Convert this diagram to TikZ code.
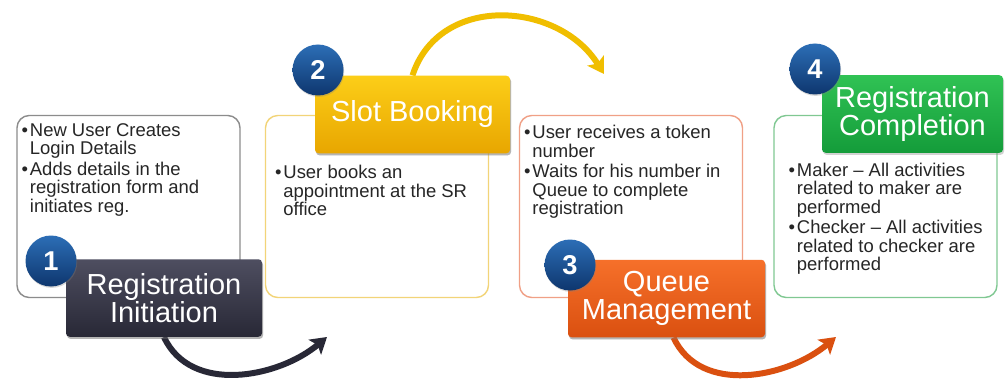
\documentclass[tikz,border=0pt]{standalone}
\usepackage{fontspec}
\setmainfont{Liberation Sans}
\usetikzlibrary{arrows.meta, positioning, shadows}

\definecolor{numtop}{RGB}{44,110,182}
\definecolor{numbot}{RGB}{14,54,110}
\definecolor{darktop}{RGB}{78,78,96}
\definecolor{darkbot}{RGB}{40,40,54}
\definecolor{yeltop}{RGB}{252,206,24}
\definecolor{yelbot}{RGB}{232,166,0}
\definecolor{yelarrow}{RGB}{240,190,0}
\definecolor{orgtop}{RGB}{246,112,42}
\definecolor{orgbot}{RGB}{218,80,16}
\definecolor{grntop}{RGB}{48,194,84}
\definecolor{grnbot}{RGB}{20,156,58}
\definecolor{linegray}{RGB}{140,140,140}
\definecolor{lineyel}{RGB}{242,212,120}
\definecolor{lineorg}{RGB}{240,160,134}
\definecolor{linegrn}{RGB}{128,200,146}

% bullet and hanging indent for the notes
\newcommand{\bullt}{\makebox[0.45em][l]{\textbullet}}
\newcommand{\indt}{\hspace*{0.45em}}

\begin{document}
\begin{tikzpicture}[
    panel/.style={draw, rounded corners=7pt, line width=0.8pt, minimum width=4.46cm, minimum height=3.64cm},
    tag/.style={rounded corners=2pt, minimum height=1.55cm, inner sep=2pt, align=center, text=white,
                font=\fontsize{16.5}{16}\selectfont, drop shadow={opacity=0.35, shadow xshift=0.6pt, shadow yshift=-1.2pt}},
    num/.style={circle, top color=numtop, bottom color=numbot, minimum size=1.02cm, inner sep=0pt, text=white,
                font=\fontsize{15.5}{15.5}\selectfont\bfseries, drop shadow={opacity=0.3, shadow xshift=0.4pt, shadow yshift=-0.8pt}},
    notes/.style={inner sep=0pt, align=left, text=black!85, font=\fontsize{10.5}{10.6}\selectfont},
    flow/.style={line width=3.4pt, -{Stealth[length=9pt, width=11pt, inset=2pt]}}]
    \path[use as bounding box, fill=white] (0,0) rectangle (20.14,7.7);

    % outlined boxes
    \foreach \i/\x/\c in {1/2.57/linegray, 2/7.54/lineyel, 3/12.62/lineorg, 4/17.71/linegrn}
        \node[panel, draw=\c] (box\i) at (\x, 3.57) {};

    \node[notes, below right=0.16 and 0.1 of box1.north west] (txt1)
        {\bullt New User Creates\\ \indt Login Details\\[1pt]
         \bullt Adds details in the\\ \indt registration form and\\ \indt initiates reg.};
    \node[notes, below right=1.0 and 0.2 of box2.north west] (txt2)
        {\bullt User books an\\ \indt appointment at the SR\\ \indt office};
    \node[notes, below right=0.2 and 0.1 of box3.north west] (txt3)
        {\bullt User receives a token\\ \indt number\\[1pt]
         \bullt Waits for his number in\\ \indt Queue to complete\\ \indt registration};
    \node[notes, below right=0.95 and 0.3 of box4.north west] (txt4)
        {\bullt Maker -- All activities\\ \indt related to maker are\\ \indt performed\\[1pt]
         \bullt Checker -- All activities\\ \indt related to checker are\\ \indt performed};

    % curved arrows between the steps
    \coordinate (tip1) at (6.54, 0.96);
    \coordinate (tip2) at (12.08, 6.22);
    \coordinate (tip3) at (16.72, 0.96);
    \node[tag, minimum width=3.92cm] (tag1) at (3.28, 1.74) {};
    \node[tag, minimum width=3.90cm] (tag2) at (8.25, 5.41) {};
    \node[tag, minimum width=3.94cm] (tag3) at (13.33, 1.73) {};
    \draw[flow, darkbot] (tag1.south) to[out=-65, in=-140] (tip1);
    \draw[flow, yelarrow] (tag2.north) to[out=72, in=122, looseness=1.15] (tip2);
    \draw[flow, orgbot] ([xshift=4pt]tag3.south) to[out=-65, in=-140] (tip3);

    % step labels
    \node[tag, minimum width=3.92cm, top color=darktop, bottom color=darkbot] at (tag1) {Registration\\Initiation};
    \node[tag, minimum width=3.90cm, top color=yeltop, bottom color=yelbot] at (tag2) {Slot Booking};
    \node[tag, minimum width=3.94cm, top color=orgtop, bottom color=orgbot] at (tag3) {Queue\\Management};
    \node[tag, minimum width=3.62cm, top color=grntop, bottom color=grnbot] (tag4) at (18.25, 5.42) {Registration\\Completion};

    \foreach \i/\x/\y in {1/1.02/2.48, 2/6.36/6.30, 3/11.40/2.40, 4/16.30/6.32}
        \node[num] (num\i) at (\x, \y) {\i};
\end{tikzpicture}
\end{document}
